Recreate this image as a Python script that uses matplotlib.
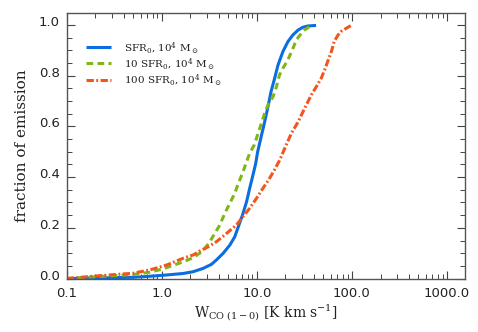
import numpy as np
import matplotlib
matplotlib.use("Agg")
import matplotlib.pyplot as plt
from matplotlib.ticker import FixedLocator, LogLocator, MultipleLocator, NullFormatter
import matplotlib.transforms as mtransforms

plt.rcParams['mathtext.fontset'] = 'dejavuserif'

# 曲线数据
x_sfr1 = [0.1, 0.2, 0.5, 0.75, 1.12, 1.68, 2.14, 2.72, 3.33, 3.75, 4.41, 5.2, 5.86, 6.3, 7.06,
          7.8, 8.41, 9.1, 9.73, 10.2, 12.1, 13.1, 14.1, 15.4, 16.7, 18.8, 21.2, 24.0, 27.2,
          30.5, 34.5, 42.0]
y_sfr1 = [0.0, 0.002, 0.005, 0.009, 0.014, 0.02, 0.027, 0.040, 0.056, 0.073, 0.099, 0.132, 0.165,
          0.198, 0.25, 0.303, 0.356, 0.408, 0.454, 0.50, 0.619, 0.678, 0.737, 0.79, 0.842, 0.895,
          0.934, 0.961, 0.98, 0.991, 0.996, 0.998]

x_sfr10 = [0.1, 0.2, 0.5, 0.75, 1.03, 1.68, 2.14, 2.5, 2.84, 3.2, 3.61, 4.08, 4.6, 5.2, 5.86,
           6.3, 7.16, 7.8, 8.41, 9.4, 12.1, 13.1, 14.8, 16.1, 17.3, 18.8, 21.2, 24.0, 26.0,
           29.4, 31.7, 35.7]
y_sfr10 = [0.0, 0.007, 0.016, 0.025, 0.038, 0.066, 0.082, 0.10, 0.119, 0.145, 0.178, 0.211, 0.257,
           0.297, 0.336, 0.369, 0.421, 0.461, 0.494, 0.527, 0.652, 0.684, 0.717, 0.757, 0.803,
           0.829, 0.862, 0.908, 0.941, 0.967, 0.98, 0.993]

x_sfr100 = [0.1, 0.2, 0.5, 0.75, 1.12, 1.68, 2.14, 2.5, 3.07, 3.75, 4.8, 6.1, 7.15, 8.4, 9.9,
            11.6, 13.5, 15.3, 17.4, 20.0, 23.1, 27.2, 31.8, 37.4, 42.3, 47.6, 51.6, 55.5, 60.8,
            65.0, 71.3, 76.8, 87.3, 100.0]
y_sfr100 = [0.0, 0.010, 0.021, 0.034, 0.053, 0.08, 0.093, 0.108, 0.125, 0.145, 0.178, 0.211, 0.244,
            0.277, 0.316, 0.356, 0.393, 0.428, 0.467, 0.52, 0.573, 0.618, 0.671, 0.724, 0.757,
            0.79, 0.822, 0.855, 0.895, 0.934, 0.96, 0.974, 0.987, 1.0]

labels = [r'SFR$_0$, 10$^4$ M$_\odot$',
          r'10 SFR$_0$, 10$^4$ M$_\odot$',
          r'100 SFR$_0$, 10$^4$ M$_\odot$']
xticks = [0.1, 1.0, 10.0, 100.0, 1000.0]
xticklabels = ['0.1', '1.0', '10.0', '100.0', '1000.0']
yticks = [0.0, 0.2, 0.4, 0.6, 0.8, 1.0]
yticklabels = ['0.0', '0.2', '0.4', '0.6', '0.8', '1.0']

fig = plt.figure(figsize=(4.78, 3.32), dpi=100)
ax = fig.add_axes([0.1395, 0.161, 0.8335, 0.799])

ax.plot(x_sfr1, y_sfr1, color='#0a6ee0', lw=2.2, solid_capstyle='butt', solid_joinstyle='round',
        label=labels[0])
ax.plot(x_sfr10, y_sfr10, color='#80b61a', lw=2.2, dashes=(2.2, 1.4), label=labels[1])
ax.plot(x_sfr100, y_sfr100, color='#f2561d', lw=2.2, dashes=(2.4, 0.8, 0.6, 0.8), label=labels[2])

ax.set_xscale('log')
ax.set_xlim(0.1, 1550)
ax.set_ylim(0.0, 1.046)

ax.xaxis.set_major_locator(FixedLocator(xticks))
ax.set_xticklabels(xticklabels)
ax.xaxis.set_minor_locator(LogLocator(base=10, subs=np.arange(2, 10)))
ax.xaxis.set_minor_formatter(NullFormatter())
ax.set_yticks(yticks)
ax.set_yticklabels(yticklabels)
ax.yaxis.set_minor_locator(MultipleLocator(0.05))

ax.tick_params(which='both', direction='in', top=True, right=True, color='#444444',
               labelsize=9.5, labelcolor='#222222')
ax.tick_params(which='major', length=6, width=0.8)
ax.tick_params(which='minor', length=3.5, width=0.7)
ax.tick_params(axis='x', pad=6)
ax.tick_params(axis='y', pad=5)
for s in ax.spines.values():
    s.set_color('#555555')
    s.set_linewidth(1.0)

# y 轴刻度标签略微上移
off = mtransforms.ScaledTranslation(0, 4 / 100, fig.dpi_scale_trans)
for lab in ax.get_yticklabels():
    lab.set_transform(lab.get_transform() + off)

ax.set_ylabel('fraction of emission', family='DejaVu Serif', fontsize=11, color='#222222',
              labelpad=7)
ax.set_xlabel(r'W$_{\rm CO\ (1-0)}$ [K km s$^{-1}$]', family='DejaVu Serif', fontsize=10,
              color='#222222', labelpad=2)

leg = ax.legend(loc='upper left', bbox_to_anchor=(0.037, 0.915), frameon=False,
                prop={'family': 'DejaVu Serif', 'size': 7.5}, handlelength=2.4,
                handletextpad=1.3, labelspacing=0.05, borderaxespad=0)
for t in leg.get_texts():
    t.set_color('#222222')

fig.savefig('out.png', dpi=100)
